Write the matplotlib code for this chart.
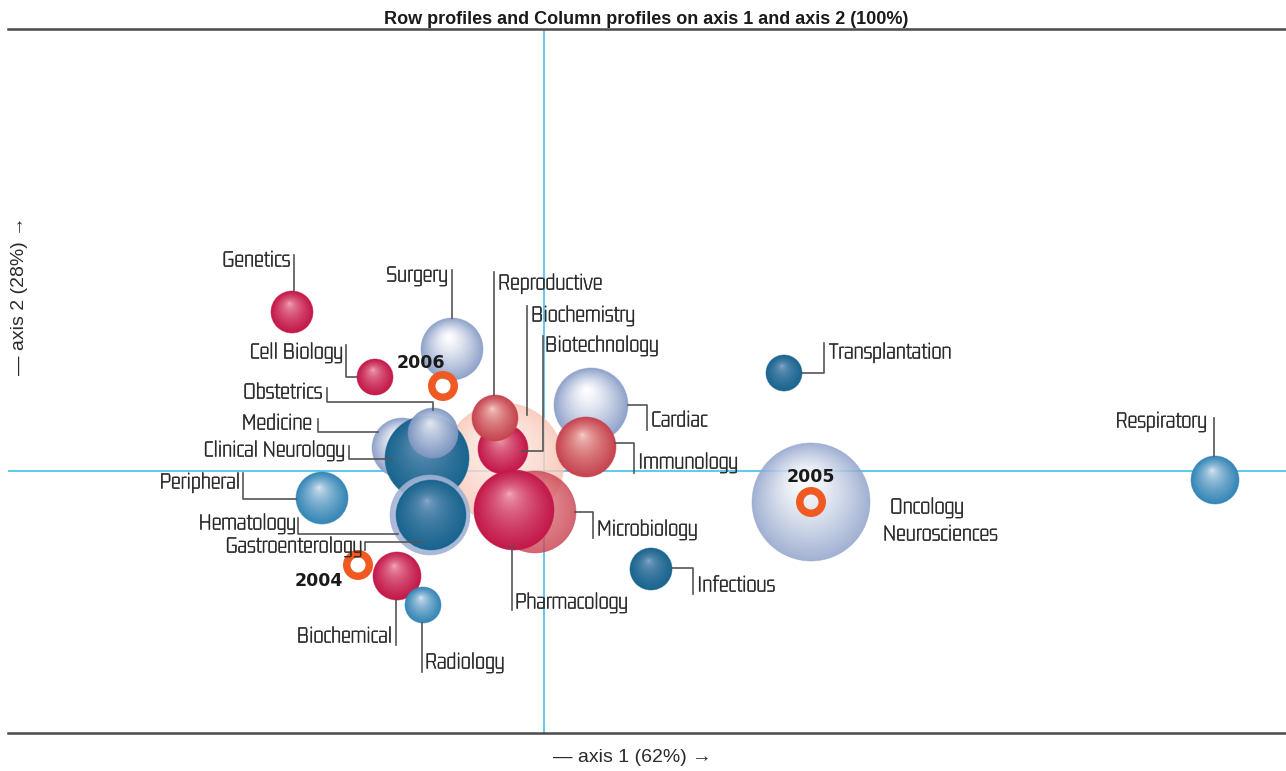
import numpy as np
import matplotlib.pyplot as plt
import matplotlib.patheffects as pe
from matplotlib.patches import Circle, Wedge
from matplotlib.colors import to_rgb

# 행/열 프로파일 (축 1, 축 2) - 그리는 순서대로 (뒤 -> 앞)
categories = ['Biochemistry', 'Surgery', 'Cardiac', 'Immunology', 'Medicine',
              'Clinical Neurology', 'Obstetrics', 'Biotechnology', 'Reproductive',
              'Hematology', 'Gastroenterology', 'Microbiology', 'Pharmacology',
              'Genetics', 'Cell Biology', 'Peripheral', 'Biochemical', 'Radiology',
              'Infectious', 'Transplantation', 'Oncology / Neurosciences', 'Respiratory']
axis1 = [-0.40, -0.92, 0.47, 0.42, -1.42, -1.17, -1.11, -0.41, -0.49,
         -1.14, -1.13, -0.09, -0.30, -2.52, -1.69, -2.22, -1.47, -1.21,
         1.07, 2.40, 2.67, 6.71]
axis2 = [0.08, 1.22, 0.66, 0.24, 0.23, 0.13, 0.38, 0.22, 0.53,
         -0.44, -0.44, -0.41, -0.39, 1.59, 0.94, -0.27, -1.05, -1.34,
         -0.98, 0.98, -0.31, -0.09]
mass = [0.60, 0.31, 0.37, 0.30, 0.30, 0.42, 0.25, 0.25, 0.23,
        0.40, 0.35, 0.41, 0.40, 0.21, 0.18, 0.26, 0.24, 0.18,
        0.21, 0.18, 0.59, 0.24]
group = ['peach', 'pale', 'pale', 'salmon', 'pale', 'teal', 'mid', 'red', 'salmon',
         'ring', 'teal', 'salmon_t', 'red', 'red', 'red', 'blue', 'red', 'blue',
         'teal', 'teal', 'pale_t', 'blue']

years = ['2004', '2005', '2006']
year_axis1 = [-1.86, 2.67, -1.01]
year_axis2 = [-0.94, -0.31, 0.85]

# 색상 계열: (하이라이트, 가장자리, 감마, 투명도)
PALETTE = {
    'red':      ('#f7b9c3', '#c3184a', 0.55, 1.0),
    'salmon':   ('#f9d6cd', '#c6434f', 0.65, 1.0),
    'salmon_t': ('#f3a7a4', '#c9404f', 0.70, 0.80),
    'peach':    ('#fff0ea', '#f8c3b2', 1.20, 0.80),
    'pale':     ('#ffffff', '#8fa2ca', 1.30, 1.0),
    'pale_t':   ('#ffffff', '#90a3cb', 1.30, 0.85),
    'ring':     ('#dfe5f1', '#9fb0d3', 1.00, 0.90),
    'mid':      ('#eef1f8', '#8197c2', 0.90, 0.95),
    'blue':     ('#e6ecf5', '#3486b6', 0.65, 1.0),
    'teal':     ('#a9b9d9', '#19658f', 0.40, 1.0),
}

# 라벨 위치와 지시선 (축 단위)
LABELS = {
    'Genetics': ((-2.54, 2.10), 'right', [(-2.50, 2.16), (-2.50, 1.80)]),
    'Surgery': ((-0.96, 1.95), 'right', [(-0.92, 2.01), (-0.92, 1.53)]),
    'Reproductive': ((-0.46, 1.87), 'left', [(-0.50, 1.99), (-0.50, 0.76)]),
    'Biochemistry': ((-0.13, 1.55), 'left', [(-0.17, 1.65), (-0.17, 0.56)]),
    'Biotechnology': ((0.01, 1.25), 'left', [(-0.01, 1.35), (-0.01, 0.20), (-0.22, 0.20)]),
    'Cell Biology': ((-2.01, 1.18), 'right', [(-1.98, 1.26), (-1.98, 0.94), (-1.87, 0.94)]),
    'Obstetrics': ((-2.22, 0.78), 'right', [(-2.17, 0.83), (-2.17, 0.69), (-1.11, 0.69), (-1.11, 0.61)]),
    'Medicine': ((-2.32, 0.47), 'right', [(-2.26, 0.52), (-2.26, 0.39), (-1.66, 0.39)]),
    'Clinical Neurology': ((-1.99, 0.20), 'right', [(-1.95, 0.25), (-1.95, 0.12), (-1.52, 0.12)]),
    'Peripheral': ((-3.04, -0.12), 'right', [(-3.01, -0.02), (-3.01, -0.28), (-2.48, -0.28)]),
    'Hematology': ((-2.48, -0.53), 'right', [(-2.46, -0.47), (-2.46, -0.63), (-1.46, -0.63)]),
    'Gastroenterology': ((-1.82, -0.76), 'right', [(-1.79, -0.79), (-1.79, -0.71), (-1.22, -0.71)]),
    'Biochemical': ((-1.52, -1.66), 'right', [(-1.48, -1.29), (-1.48, -1.74)]),
    'Radiology': ((-1.19, -1.92), 'left', [(-1.22, -1.52), (-1.22, -2.01)]),
    'Pharmacology': ((-0.29, -1.32), 'left', [(-0.32, -0.74), (-0.32, -1.39)]),
    'Microbiology': ((0.53, -0.59), 'left', [(0.31, -0.41), (0.49, -0.41), (0.49, -0.67)]),
    'Cardiac': ((1.07, 0.50), 'left', [(0.84, 0.66), (1.03, 0.66), (1.03, 0.41)]),
    'Immunology': ((0.94, 0.08), 'left', [(0.71, 0.28), (0.90, 0.28), (0.90, -0.02)]),
    'Transplantation': ((2.85, 1.18), 'left', [(2.58, 0.98), (2.80, 0.98), (2.80, 1.28)]),
    'Infectious': ((1.53, -1.15), 'left', [(1.28, -0.97), (1.49, -0.97), (1.49, -1.23)]),
    'Respiratory': ((6.63, 0.49), 'right', [(6.70, 0.53), (6.70, 0.15)]),
    'Oncology': ((3.46, -0.37), 'left', []),
    'Neurosciences': ((3.39, -0.64), 'left', []),
}
YEAR_TEXT = {'2004': (-2.25, -1.10), '2005': (2.67, -0.06), '2006': (-1.23, 1.08)}

LABEL_FONT = ['Gemunu Libre', 'Liberation Sans', 'DejaVu Sans']
AXIS_FONT = ['Liberation Sans', 'DejaVu Sans']
CYAN = '#45c0ea'
ORANGE = '#f05a22'
INK = '#2b2b2b'


def draw_sphere(ax, x, y, r, light, dark, gamma=1.0, alpha=1.0, z=2, n=160):
    """하이라이트가 위쪽에 있는 구 모양 버블"""
    u = np.linspace(-1, 1, n)
    uu, vv = np.meshgrid(u, u)
    hx, hy = -0.12, 0.42
    dx, dy = uu - hx, vv - hy
    dd = dx * dx + dy * dy + 1e-9
    hd = hx * dx + hy * dy
    s = (-hd + np.sqrt(hd * hd - dd * (hx * hx + hy * hy - 1))) / dd
    t = np.clip(1.0 / s, 0, 1) ** gamma
    lo, hi = np.array(to_rgb(light)), np.array(to_rgb(dark))
    rgb = lo + (hi - lo) * t[..., None]
    img = np.dstack([rgb, np.full(t.shape, alpha)])
    im = ax.imshow(img, extent=(x - r, x + r, y - r, y + r), origin='lower',
                   zorder=z, interpolation='bilinear')
    im.set_clip_path(Circle((x, y), r, transform=ax.transData))
    ax.add_patch(Circle((x, y), r, fill=False, ec=dark, lw=0.6,
                        alpha=0.6 * alpha, zorder=z))


fig = plt.figure(figsize=(12.86, 7.71), dpi=100)
ax = fig.add_axes([8 / 1286, 38 / 771, 1278 / 1286, 704 / 771])

for i, name in enumerate(categories):
    light, dark, gamma, alpha = PALETTE[group[i]]
    draw_sphere(ax, axis1[i], axis2[i], mass[i], light, dark, gamma, alpha, z=3 + i * 0.01)

# 연도 (열 프로파일) - 주황색 고리
for yr, xv, yv in zip(years, year_axis1, year_axis2):
    ax.add_patch(Wedge((xv, yv), 0.15, 0, 360, width=0.075, fc=ORANGE, ec='none', zorder=5))
    tx, ty = YEAR_TEXT[yr]
    ax.text(tx, ty, yr, ha='center', va='center', fontsize=12.5, fontweight='bold',
            color='#1a1a1a', family='DejaVu Sans', zorder=6)

# 라벨과 지시선
stroke = [pe.withStroke(linewidth=0.3, foreground=INK)]
for text, (pos, ha, path) in LABELS.items():
    if path:
        px, py = zip(*path)
        ax.plot(px, py, color='#555555', lw=1.2, zorder=4)
    ax.text(pos[0], pos[1], text, ha=ha, va='center', fontsize=17,
            color=INK, family=LABEL_FONT, zorder=6, path_effects=stroke)

# 원점 축선
ax.axhline(0, color=CYAN, lw=1.2, zorder=1)
ax.axvline(0, color=CYAN, lw=1.2, zorder=1)

ax.set_xlim(-5.36, 7.42)
ax.set_ylim(-2.62, 4.42)
ax.set_aspect('equal', adjustable='box')
ax.set_xticks([])
ax.set_yticks([])
for side in ['left', 'right']:
    ax.spines[side].set_visible(False)
for side in ['top', 'bottom']:
    ax.spines[side].set_color('#4a4a4a')
    ax.spines[side].set_linewidth(1.8)

fig.text(646 / 1286, 1 - 20 / 771, 'Row profiles and Column profiles on axis 1 and axis 2 (100%)',
         ha='center', va='center', fontsize=13, fontweight='bold', color='#1a1a1a',
         family=AXIS_FONT)
fig.text(632 / 1286, 1 - 757 / 771, '— axis 1 (62%) →', ha='center', va='center',
         fontsize=14, color=INK, family=AXIS_FONT)
fig.text(20 / 1286, 1 - 296 / 771, '— axis 2 (28%) →', ha='center', va='center',
         rotation=90, fontsize=14, color=INK, family=AXIS_FONT)

fig.savefig('out.png', dpi=100, facecolor='white')
